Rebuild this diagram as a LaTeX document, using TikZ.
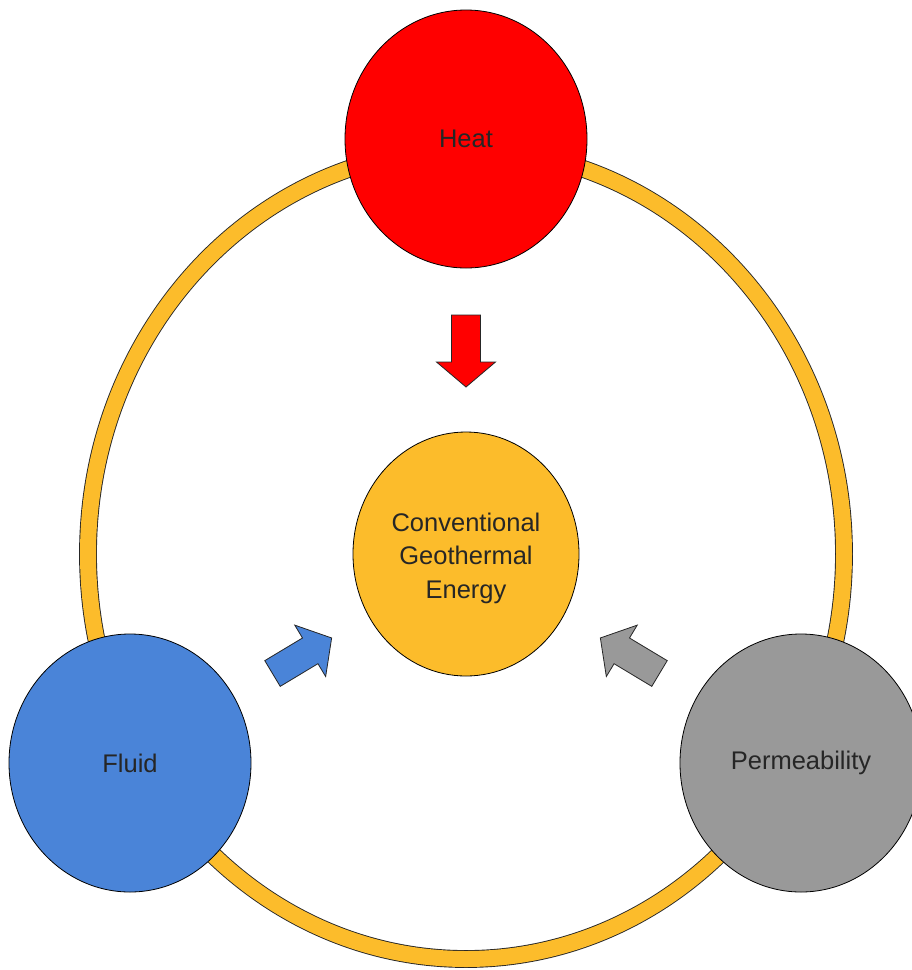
\documentclass[tikz,border=0pt]{standalone}
\usepackage{fontspec}
\setmainfont{Liberation Sans}
\usetikzlibrary{shapes.geometric}
\definecolor{ringyellow}{HTML}{FCBC2B}
\definecolor{heatred}{HTML}{FF0000}
\definecolor{fluidblue}{HTML}{4A84D8}
\definecolor{permgray}{HTML}{999999}
\definecolor{labeltext}{HTML}{262626}
\newcommand\blockarrow[6]{% style, position, angle, shaft length, shaft half width, head half width
  \draw[#1, shift={#2}, rotate=#3] (0,-#5) -- (#4,-#5) -- (#4,-#6) -- ({#4+25},0) -- (#4,#6) -- (#4,#5) -- (0,#5) -- cycle;}
\begin{document}
\begin{tikzpicture}[x=1pt,y=-1pt,
  labelfont/.style={text=labeltext, font=\fontsize{25.5}{33.5}\selectfont, align=center},
  blob/.style={ellipse, draw=black, line width=0.8pt, inner sep=0pt,
    minimum width=242pt, minimum height=258pt, labelfont},
  ringline/.style={draw=black!85, line width=0.9pt, double=ringyellow, double distance=16pt},
  blockarr/.style={draw=black!85, line width=0.8pt, line join=miter}]
\useasboundingbox (0,0) rectangle (912,970);
\clip (0,0) rectangle (912,970);
% ring
\draw[ringline] (466,554) ellipse [x radius=378pt, y radius=405pt];
% nodes
\node[blob, fill=heatred] (heat) at (466,139) {Heat};
\node[blob, fill=fluidblue] (fluid) at (130,763) {Fluid};
\node[blob, fill=permgray] (perm) at (801,763) {Permeability};
\node[blob, fill=ringyellow, minimum width=226pt, minimum height=244pt] (cge) at (466,554) {};
\node[labelfont, inner sep=0pt] (cgetext) at (466,558) {Conventional\\Geothermal\\Energy};
% block arrows
\blockarrow{blockarr, fill=heatred}{(466,315)}{-90}{47}{14.5}{29.5}
\blockarrow{blockarr, fill=fluidblue}{(272.5,673.5)}{31}{44}{15}{30}
\blockarrow{blockarr, fill=permgray}{(659.5,673.5)}{149}{44}{15}{30}
\end{tikzpicture}
\end{document}
